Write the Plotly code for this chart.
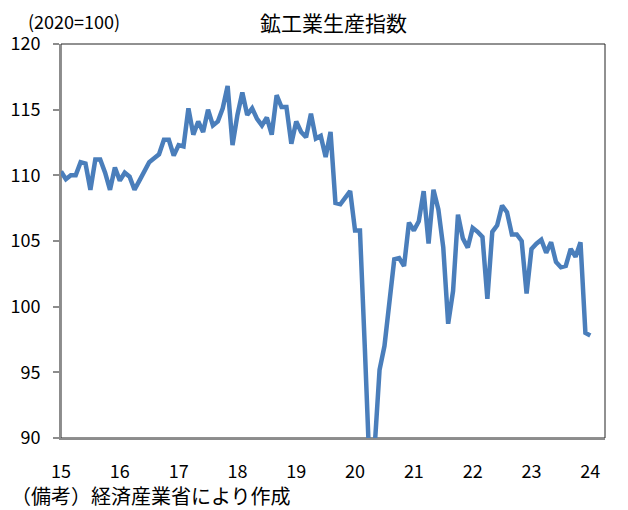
import plotly.graph_objects as go

# 鉱工業生産指数 (2020=100), monthly, Jan 2015 - Jan 2024
year_labels = ["15", "16", "17", "18", "19", "20", "21", "22", "23", "24"]

iip_2015 = [110.3, 109.7, 110.0, 110.0, 111.0, 110.9, 108.9, 111.2, 111.2, 110.2, 108.9, 110.6]
iip_2016 = [109.6, 110.2, 109.9, 108.9, 109.6, 110.3, 111.0, 111.3, 111.6, 112.7, 112.7, 111.5]
iip_2017 = [112.3, 112.2, 115.1, 113.1, 114.1, 113.3, 115.0, 113.8, 114.1, 115.1, 116.8, 112.3]
iip_2018 = [114.6, 116.3, 114.6, 115.1, 114.3, 113.8, 114.4, 113.1, 116.1, 115.2, 115.2, 112.4]
iip_2019 = [114.1, 113.3, 112.9, 114.7, 112.8, 113.0, 111.4, 113.3, 107.9, 107.8, 108.3, 108.8]
iip_2020 = [105.8, 105.8, 96.8, 87.3, 89.3, 95.2, 97.0, 100.4, 103.6, 103.7, 103.1, 106.4]
iip_2021 = [105.8, 106.5, 108.8, 104.8, 108.9, 107.4, 104.5, 98.7, 101.2, 107.0, 105.2, 104.5]
iip_2022 = [106.0, 105.7, 105.3, 100.6, 105.7, 106.2, 107.7, 107.2, 105.5, 105.5, 105.0, 101.0]
iip_2023 = [104.4, 104.8, 105.1, 104.1, 104.9, 103.4, 103.0, 103.1, 104.4, 103.8, 104.9, 98.0]
iip_2024 = [97.8]

LINE_COLOR = "#4a7ebb"
AXIS_COLOR = "#8c8c8c"
FONT = "Noto Sans CJK JP"


def build_figure():
    values = iip_2015 + iip_2016 + iip_2017 + iip_2018 + iip_2019 + \
        iip_2020 + iip_2021 + iip_2022 + iip_2023 + iip_2024
    months = list(range(len(values)))

    fig = go.Figure()
    fig.add_trace(go.Scatter(x=months, y=values, mode="lines",
                             line=dict(color=LINE_COLOR, width=4.5),
                             hoverinfo="skip"))

    # black frame around the plot area (top / right visible)
    fig.add_shape(type="rect", xref="paper", yref="paper", x0=0, y0=0, x1=1, y1=1,
                  line=dict(color="#222222", width=1), layer="below")

    fig.update_xaxes(range=[0, 111], tickvals=[i * 12 for i in range(len(year_labels))],
                     ticktext=year_labels, showgrid=False, zeroline=False,
                     showline=True, linecolor=AXIS_COLOR, linewidth=2,
                     ticks="", ticklabelstandoff=16, automargin=False,
                     tickfont=dict(family=FONT, size=18, color="black"))
    fig.update_yaxes(range=[90, 120], dtick=5, showgrid=False, zeroline=False,
                     showline=True, linecolor=AXIS_COLOR, linewidth=2,
                     ticks="outside", ticklen=6, tickcolor=AXIS_COLOR, tickwidth=1.5,
                     ticklabelstandoff=9, automargin=False,
                     tickfont=dict(family=FONT, size=18, color="black"))

    fig.add_annotation(text="鉱工業生産指数", xref="paper", yref="paper",
                       x=0.5, y=1.056, xanchor="center", yanchor="middle",
                       showarrow=False, font=dict(family=FONT, size=21, color="black"))
    fig.add_annotation(text="(2020=100)", xref="paper", yref="paper",
                       x=-0.064, y=1.0596, xanchor="left", yanchor="middle",
                       showarrow=False, font=dict(family=FONT, size=18, color="black"))
    fig.add_annotation(text="（備考）経済産業省により作成", xref="paper", yref="paper",
                       x=-0.0938, y=-0.1472, xanchor="left", yanchor="middle",
                       borderpad=0, showarrow=False,
                       font=dict(family=FONT, size=20, color="black"))

    # page body adds an 8px offset, margins are trimmed to compensate
    fig.update_layout(width=628, height=510,
                      margin=dict(l=53, r=31, t=36, b=80, autoexpand=False),
                      paper_bgcolor="white", plot_bgcolor="white",
                      showlegend=False)
    return fig


def main():
    fig = build_figure()
    fig.write_html("out.html")
    print("Chart written to out.html")


if __name__ == "__main__":
    main()
